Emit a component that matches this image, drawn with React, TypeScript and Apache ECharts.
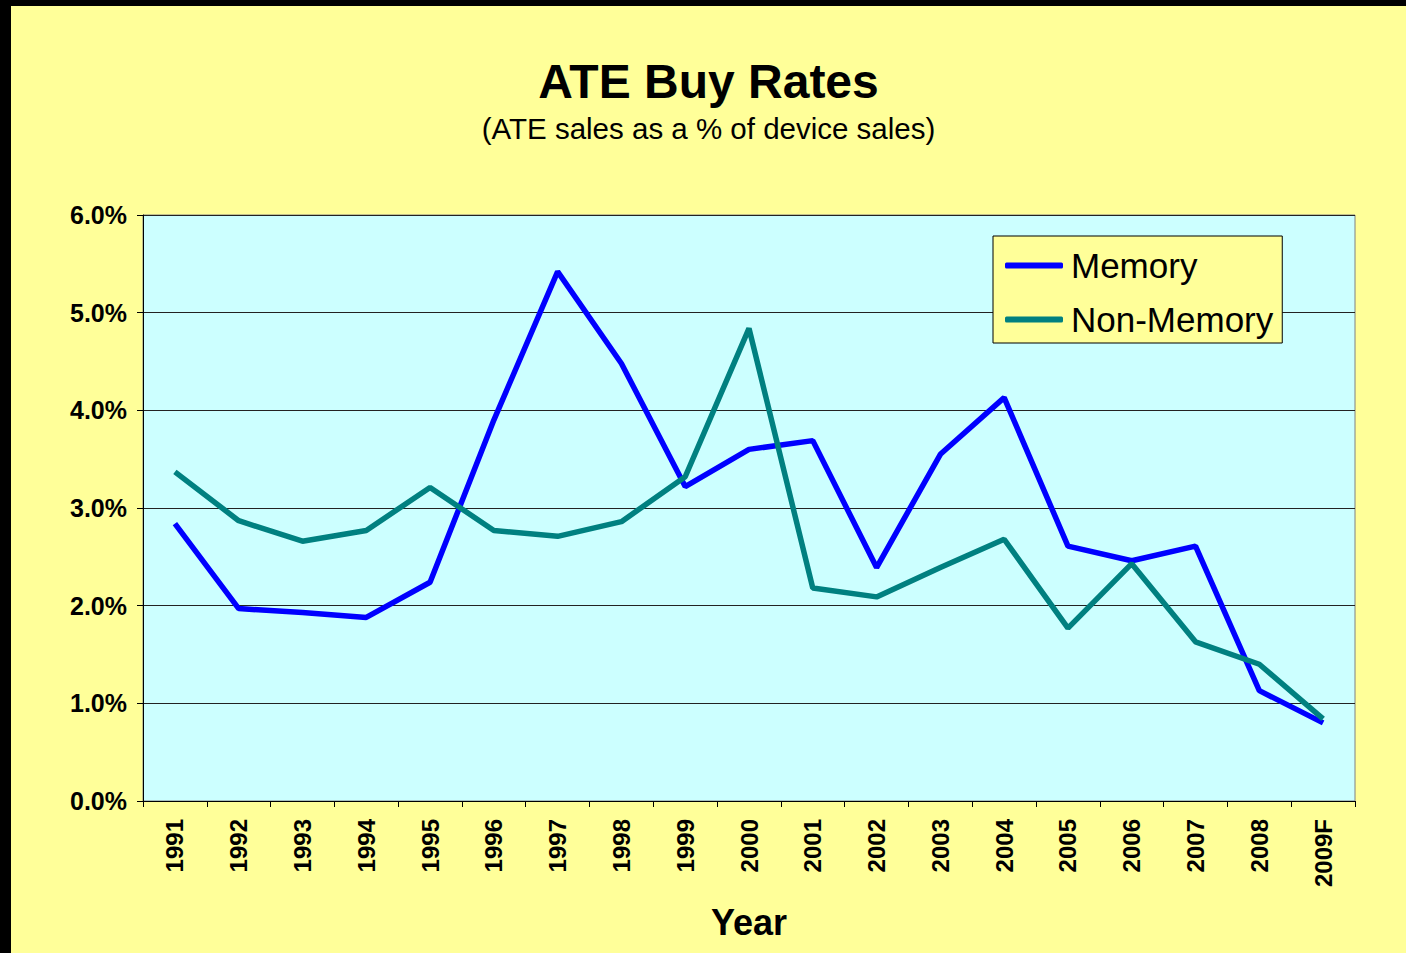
import React, { useEffect, useRef } from "react";
import * as echarts from "echarts";

const years = ["1991","1992","1993","1994","1995","1996","1997","1998","1999","2000","2001","2002","2003","2004","2005","2006","2007","2008","2009F"];
const memory = [2.84, 1.97, 1.93, 1.88, 2.24, 3.9, 5.42, 4.48, 3.22, 3.6, 3.69, 2.39, 3.55, 4.13, 2.61, 2.46, 2.61, 1.13, 0.8];
const nonMemory = [3.37, 2.87, 2.66, 2.77, 3.21, 2.77, 2.71, 2.86, 3.32, 4.84, 2.18, 2.09, 2.39, 2.68, 1.77, 2.43, 1.63, 1.4, 0.84];
const yTicks = { min: 0, max: 6, interval: 1 };

const FONT = "'Liberation Sans', Arial, Helvetica, sans-serif";

export default function App() {
  const ref = useRef<HTMLDivElement>(null);
  useEffect(() => {
    if (!ref.current) return;
    const chart = echarts.init(ref.current, null, { renderer: "svg" });
    chart.setOption({
      animation: false,
      backgroundColor: "#FFFF99",
      textStyle: { fontFamily: FONT },
      title: [
        {
          text: "ATE Buy Rates",
          left: "center",
          top: 46,
          textStyle: { fontFamily: FONT, fontSize: 48, fontWeight: "bold", color: "#000" },
        },
        {
          text: "(ATE sales as a % of device sales)",
          left: "center",
          top: 102,
          textStyle: { fontFamily: FONT, fontSize: 29.5, fontWeight: "normal", color: "#000" },
        },
      ],
      legend: {
        orient: "vertical",
        left: 982,
        top: 230,
        padding: [12, 9, 6, 12],
        itemGap: 19,
        itemWidth: 58,
        itemHeight: 6,
        icon: "roundRect",
        backgroundColor: "#FFFF99",
        borderColor: "#000",
        borderWidth: 1,
        borderRadius: 0,
        textStyle: { fontFamily: FONT, fontSize: 35, color: "#000", lineHeight: 34, padding: [0, 0, 0, 3] },
        data: ["Memory", "Non-Memory"],
      },
      grid: {
        left: 132,
        top: 209,
        right: 51,
        bottom: 152,
        show: true,
        backgroundColor: "#CCFFFF",
        borderColor: "#808080",
        borderWidth: 1,
        containLabel: false,
      },
      xAxis: {
        type: "category",
        data: years,
        boundaryGap: true,
        name: "Year",
        nameLocation: "middle",
        nameGap: 103,
        nameTextStyle: { fontFamily: FONT, fontSize: 36, fontWeight: "bold", color: "#000" },
        axisLine: { lineStyle: { color: "#000", width: 1 } },
        axisTick: { show: true, length: 6, lineStyle: { color: "#000" } },
        axisLabel: {
          rotate: 90,
          margin: 18,
          fontFamily: FONT,
          fontSize: 24,
          fontWeight: "bold",
          color: "#000",
        },
      },
      yAxis: {
        type: "value",
        min: yTicks.min,
        max: yTicks.max,
        interval: yTicks.interval,
        axisLine: { show: true, lineStyle: { color: "#000", width: 1 } },
        axisTick: { show: true, length: 6, lineStyle: { color: "#000" } },
        splitLine: { show: true, lineStyle: { color: "#222", width: 1 } },
        axisLabel: {
          margin: 16,
          fontFamily: FONT,
          fontSize: 25,
          fontWeight: "bold",
          color: "#000",
          formatter: (v: number) => v.toFixed(1) + "%",
        },
      },
      series: [
        {
          name: "Memory",
          type: "line",
          data: memory,
          showSymbol: false,
          symbol: "none",
          lineStyle: { color: "#0000FF", width: 5.5 },
          itemStyle: { color: "#0000FF" },
        },
        {
          name: "Non-Memory",
          type: "line",
          data: nonMemory,
          showSymbol: false,
          symbol: "none",
          lineStyle: { color: "#008080", width: 5.5 },
          itemStyle: { color: "#008080" },
        },
      ],
    });
    return () => chart.dispose();
  }, []);

  return (
    <div style={{ position: "fixed", left: 0, top: 0, width: 1406, height: 953, background: "#000", overflow: "hidden" }}>
      <div ref={ref} style={{ position: "absolute", left: 11, top: 6, width: 1395, height: 947 }} />
    </div>
  );
}
